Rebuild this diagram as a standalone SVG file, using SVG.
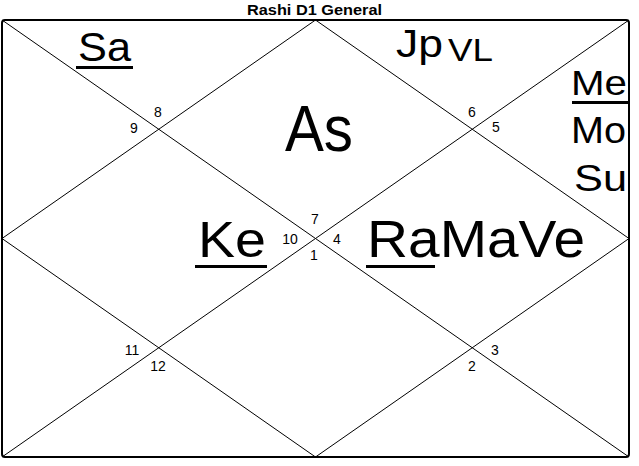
<svg xmlns="http://www.w3.org/2000/svg" width="639" height="466" viewBox="0 0 639 466">
<style>
text{font-family:"Liberation Sans",Arial,sans-serif;fill:#000}
.t{font-weight:bold;font-size:14px}
.n{font-size:14px;text-anchor:middle}
.ln{stroke:#000;stroke-width:1;fill:none}
.fr{stroke:#000;stroke-width:2;fill:#fff}
.ul{fill:#000}
</style>
<rect width="639" height="466" fill="#fff"/>
<text id="title" class="t" x="247" y="15" textLength="135" lengthAdjust="spacingAndGlyphs">Rashi D1 General</text>
<g id="connectors">
<rect class="fr" x="2" y="20" width="627" height="437" rx="3"/>
<line class="ln" x1="2" y1="20" x2="629" y2="457"/>
<line class="ln" x1="629" y1="20" x2="2" y2="457"/>
<path class="ln" d="M315.5 20 L629 238.5 L315.5 457 L2 238.5 Z"/>
</g>
<g id="house-numbers">
<text class="n" x="158" y="117">8</text>
<text class="n" x="134" y="133">9</text>
<text class="n" x="472" y="117">6</text>
<text class="n" x="496" y="132">5</text>
<text class="n" x="315" y="224">7</text>
<text class="n" x="290" y="244">10</text>
<text class="n" x="337" y="244">4</text>
<text class="n" x="314" y="260">1</text>
<text class="n" x="132" y="355">11</text>
<text class="n" x="158" y="371">12</text>
<text class="n" x="495" y="355">3</text>
<text class="n" x="472" y="371">2</text>
</g>
<g id="h8">
<text x="78" y="61" font-size="41" textLength="53" lengthAdjust="spacingAndGlyphs">Sa</text>
<rect class="ul" x="76" y="66" width="57" height="3"/>
</g>
<g id="h7">
<text x="285" y="151" font-size="65" textLength="68" lengthAdjust="spacingAndGlyphs">As</text>
</g>
<g id="h6">
<text x="396" y="57" font-size="39" textLength="47" lengthAdjust="spacingAndGlyphs">Jp</text>
<text x="448" y="61" font-size="32" textLength="45" lengthAdjust="spacingAndGlyphs">VL</text>
</g>
<g id="h5">
<text x="571" y="95" font-size="35" textLength="56" lengthAdjust="spacingAndGlyphs">Me</text>
<rect class="ul" x="572" y="101" width="56" height="3"/>
<text x="571" y="143" font-size="37" textLength="55" lengthAdjust="spacingAndGlyphs">Mo</text>
<text x="574" y="191" font-size="37" textLength="53" lengthAdjust="spacingAndGlyphs">Su</text>
</g>
<g id="h10">
<text x="198" y="257" font-size="50" textLength="68" lengthAdjust="spacingAndGlyphs">Ke</text>
<rect class="ul" x="195" y="265" width="72" height="3"/>
</g>
<g id="h4">
<text x="367" y="257" font-size="51" textLength="218" lengthAdjust="spacingAndGlyphs">RaMaVe</text>
<rect class="ul" x="366" y="265" width="69" height="3"/>
</g>
</svg>
